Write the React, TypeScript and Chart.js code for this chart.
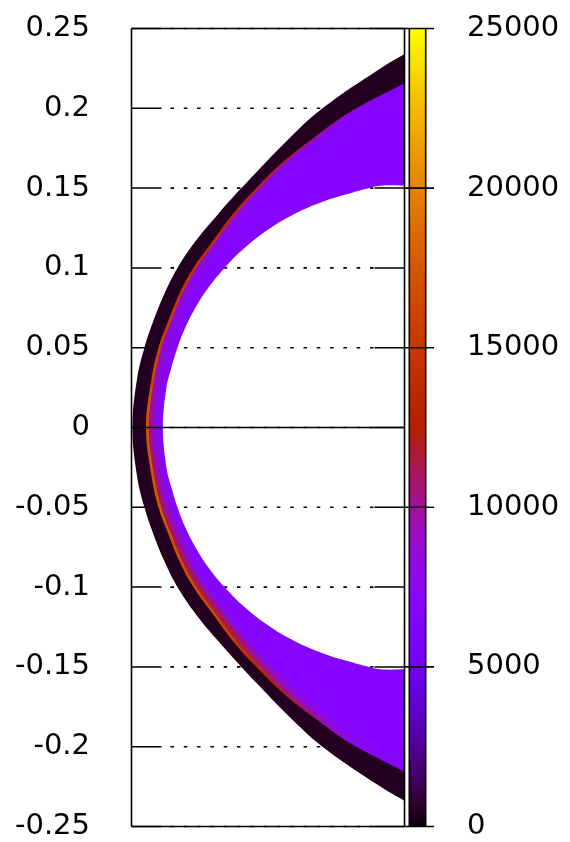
import { useEffect, useRef } from "react";
import { Chart, registerables } from "chart.js";

Chart.register(...registerables);

// ---- axis ticks ----
const Y_TICKS = [-0.25, -0.2, -0.15, -0.1, -0.05, 0, 0.05, 0.1, 0.15, 0.2, 0.25];
const Y_LABELS = ["-0.25", "-0.2", "-0.15", "-0.1", "-0.05", "0", "0.05", "0.1", "0.15", "0.2", "0.25"];
const CB_TICKS = [0, 5000, 10000, 15000, 20000, 25000];
const CB_LABELS = ["0", "5000", "10000", "15000", "20000", "25000"];
const CB_MAX = 25000;
const X_MAX = 0.1711;

// ---- boundaries of the layer (upper half, from right edge toward the nose; lower half mirrors) ----
const OUTER_Y = [0.2345, 0.225, 0.2, 0.18, 0.16, 0.15, 0.134, 0.1175, 0.1, 0.084, 0.067, 0.05, 0.03, 0];
const OUTER_X = [0.172, 0.156, 0.1197, 0.0977, 0.0783, 0.0689, 0.0545, 0.0407, 0.0288, 0.0207, 0.0138, 0.0081, 0.0034, 0.0006];

const SHEATH_Y = [0.2162, 0.1979, 0.1833, 0.1666, 0.1488, 0.1342, 0.1175, 0.1, 0.084, 0.067, 0.05, 0.03, 0];
const SHEATH_X = [0.172, 0.1372, 0.1165, 0.0952, 0.0771, 0.0639, 0.0514, 0.0388, 0.0301, 0.0232, 0.0169, 0.0125, 0.0091];

const INNER_Y = [0.1515, 0.1515, 0.1495, 0.1465, 0.1425, 0.135, 0.125, 0.1125, 0.1, 0.0875, 0.075, 0.0625, 0.05, 0.0375, 0.025, 0];
const INNER_X = [0.172, 0.156, 0.1466, 0.136, 0.1228, 0.1046, 0.0871, 0.0708, 0.0583, 0.0481, 0.0401, 0.0337, 0.0288, 0.025, 0.0219, 0.0197];

// ---- values (colour levels) ----
const DARK_LEVEL = 500;
const BASE_LEVEL = 6800;
const STRIPE_Y = [0.21, 0.17, 0.12, 0.05, 0, -0.05, -0.12, -0.16, -0.2];
const STRIPE_LEVEL = [6800, 11000, 14000, 16000, 17500, 17500, 16500, 12500, 6800];
const MAG_Y = [0.2, 0.14, 0.06, 0, -0.06, -0.13, -0.18, -0.22];
const MAG_LEVEL = [6800, 9000, 10000, 11500, 12000, 13000, 9500, 6800];
const MAG_ALPHA = [0, 0.25, 0.3, 0.45, 0.55, 0.65, 0.4, 0];

function palette(t: number): [number, number, number] {
  const c = (v: number) => Math.round(255 * Math.min(1, Math.max(0, v)));
  return [c(Math.sqrt(t)), c(t * t * t), c(Math.sin(2 * Math.PI * t))];
}
function levelColor(level: number, alpha = 1) {
  const [r, g, b] = palette(level / CB_MAX);
  return `rgba(${r},${g},${b},${alpha})`;
}

type P = { x: number; y: number };
function fullCurve(xs: number[], ys: number[]): P[] {
  const upper = ys.map((y, i) => ({ x: xs[i], y }));
  const lower = upper
    .filter((p) => p.y !== 0)
    .reverse()
    .map((p) => ({ x: p.x, y: -p.y }));
  return [...upper, ...lower];
}
function ring(a: P[], b: P[]): P[] {
  const br = [...b].reverse();
  return [...a, a[a.length - 1], br[0], ...br];
}

function gradientY(chart: any, ys: number[], levels: number[], alphas: number[] | number) {
  const sy = chart.scales?.y;
  if (!chart.chartArea || !sy) return "transparent";
  const g = chart.ctx.createLinearGradient(0, sy.top, 0, sy.bottom);
  ys.forEach((y, i) => {
    const off = (sy.getPixelForValue(y) - sy.top) / (sy.bottom - sy.top);
    const a = Array.isArray(alphas) ? alphas[i] : alphas;
    g.addColorStop(Math.min(1, Math.max(0, off)), levelColor(levels[i], a));
  });
  return g;
}

const TICK_LEN = 30;

const gnuplotGrid = {
  id: "gnuplotGrid",
  beforeDatasetsDraw(chart: any) {
    const { ctx, chartArea: a, scales } = chart;
    const ys = scales.y;
    ctx.save();
    ctx.strokeStyle = "#000";
    for (const v of Y_TICKS) {
      const py = ys.getPixelForValue(v);
      ctx.setLineDash([]);
      ctx.lineWidth = 1.5;
      ctx.beginPath();
      ctx.moveTo(a.left, py);
      ctx.lineTo(a.left + TICK_LEN, py);
      ctx.moveTo(a.right - TICK_LEN, py);
      ctx.lineTo(a.right, py);
      ctx.stroke();
      ctx.setLineDash([3.5, 9.8]);
      ctx.lineWidth = 1.6;
      ctx.beginPath();
      ctx.moveTo(a.left + TICK_LEN + 9, py);
      ctx.lineTo(a.right - TICK_LEN, py);
      ctx.stroke();
    }
    ctx.restore();
  },
  afterDatasetsDraw(chart: any) {
    const { ctx, chartArea: a, scales } = chart;
    const cb = scales.cb;
    const y0 = cb.getPixelForValue(0);
    const y1 = cb.getPixelForValue(CB_MAX);
    ctx.save();
    const g = ctx.createLinearGradient(0, y0, 0, y1);
    for (let i = 0; i <= 60; i++) {
      const [r, gg, b] = palette(i / 60);
      g.addColorStop(i / 60, `rgb(${r},${gg},${b})`);
    }
    ctx.fillStyle = g;
    ctx.fillRect(a.right + 5.5, y1, 15.5, y0 - y1);
    ctx.strokeStyle = "#000";
    ctx.lineWidth = 1.6;
    ctx.setLineDash([]);
    ctx.beginPath();
    ctx.moveTo(a.left, a.top);
    ctx.lineTo(a.right + 29.5, a.top);
    ctx.moveTo(a.left, a.bottom);
    ctx.lineTo(a.right + 29.5, a.bottom);
    ctx.moveTo(a.left, a.top);
    ctx.lineTo(a.left, a.bottom);
    ctx.moveTo(a.right, a.top);
    ctx.lineTo(a.right, a.bottom);
    ctx.moveTo(a.right + 4.8, a.top);
    ctx.lineTo(a.right + 4.8, a.bottom);
    ctx.moveTo(a.right + 21.2, a.top);
    ctx.lineTo(a.right + 21.2, a.bottom);
    for (const v of CB_TICKS) {
      const py = cb.getPixelForValue(v);
      ctx.moveTo(a.right, py);
      ctx.lineTo(a.right + 29.5, py);
    }
    ctx.stroke();
    ctx.restore();
  },
};

export default function App() {
  const ref = useRef<HTMLCanvasElement | null>(null);
  useEffect(() => {
    document.body.style.margin = "0";
    const canvas = ref.current;
    if (!canvas) return;
    const outerCurve = fullCurve(OUTER_X, OUTER_Y);
    const sheathCurve = fullCurve(SHEATH_X, SHEATH_Y);
    const innerCurve = fullCurve(INNER_X, INNER_Y);
    const font = { family: "'DejaVu Sans', Verdana, sans-serif", size: 29 };

    const chart = new Chart(canvas, {
      type: "line",
      data: {
        datasets: [
          {
            label: "zero axis",
            data: [{ x: 0, y: 0 }, { x: X_MAX, y: 0 }],
            borderColor: "#000",
            borderWidth: 1.4,
            fill: false,
            tension: 0,
            order: 1,
          },
          {
            label: "outer layer",
            data: ring(outerCurve, sheathCurve),
            backgroundColor: levelColor(DARK_LEVEL),
            borderColor: "transparent",
            borderWidth: 0,
            fill: "shape",
            order: 2,
          },
          {
            label: "peak",
            data: sheathCurve,
            borderColor: (c: any) => gradientY(c.chart, STRIPE_Y, STRIPE_LEVEL, 1),
            borderWidth: 5,
            fill: false,
            order: 3,
          },
          {
            label: "transition narrow",
            data: sheathCurve,
            borderColor: (c: any) => gradientY(c.chart, MAG_Y, MAG_LEVEL, MAG_ALPHA),
            borderWidth: 9,
            fill: false,
            order: 4,
          },
          {
            label: "transition mid",
            data: sheathCurve,
            borderColor: (c: any) => gradientY(c.chart, MAG_Y, MAG_LEVEL, MAG_ALPHA.map((a) => a * 0.7)),
            borderWidth: 15,
            fill: false,
            order: 5,
          },
          {
            label: "transition wide",
            data: sheathCurve,
            borderColor: (c: any) => gradientY(c.chart, MAG_Y, MAG_LEVEL, MAG_ALPHA.map((a) => a * 0.45)),
            borderWidth: 22,
            fill: false,
            order: 6,
          },
          {
            label: "inner layer",
            data: ring(sheathCurve, innerCurve),
            backgroundColor: levelColor(BASE_LEVEL),
            borderColor: "transparent",
            borderWidth: 0,
            fill: "shape",
            order: 7,
          },
        ] as any,
      },
      options: {
        responsive: false,
        devicePixelRatio: 1,
        animation: false,
        events: [],
        layout: { padding: { top: 28.5, bottom: 15.5, left: 0, right: 0 } },
        elements: { point: { radius: 0 }, line: { tension: 0.4 } },
        datasets: { line: { clip: 0 as any, xAxisID: "x", yAxisID: "y" } as any },
        plugins: { legend: { display: false }, tooltip: { enabled: false } },
        scales: {
          x: { type: "linear", min: 0, max: X_MAX, display: false },
          y: {
            type: "linear",
            position: "left",
            min: -0.25,
            max: 0.25,
            afterBuildTicks: (s: any) => {
              s.ticks = Y_TICKS.map((v) => ({ value: v }));
            },
            afterFit: (s: any) => {
              s.width = 131.5;
              s.paddingTop = 0;
              s.paddingBottom = 0;
            },
            grid: { display: false, drawTicks: false },
            border: { display: false },
            ticks: {
              autoSkip: false,
              padding: 41.5,
              color: "#000",
              font,
              callback: (_v: any, i: number) => Y_LABELS[i],
            },
          },
          cb: {
            type: "linear",
            position: "right",
            min: 0,
            max: CB_MAX,
            afterBuildTicks: (s: any) => {
              s.ticks = CB_TICKS.map((v) => ({ value: v }));
            },
            afterFit: (s: any) => {
              s.width = 165.5;
              s.paddingTop = 0;
              s.paddingBottom = 0;
            },
            grid: { display: false, drawTicks: false },
            border: { display: false },
            ticks: {
              autoSkip: false,
              padding: 62.5,
              color: "#000",
              font,
              callback: (_v: any, i: number) => CB_LABELS[i],
            },
          },
        } as any,
      },
      plugins: [gnuplotGrid],
    });
    return () => chart.destroy();
  }, []);

  return (
    <div style={{ width: 570, height: 842 }}>
      <canvas ref={ref} width={570} height={842} style={{ display: "block" }} />
    </div>
  );
}
